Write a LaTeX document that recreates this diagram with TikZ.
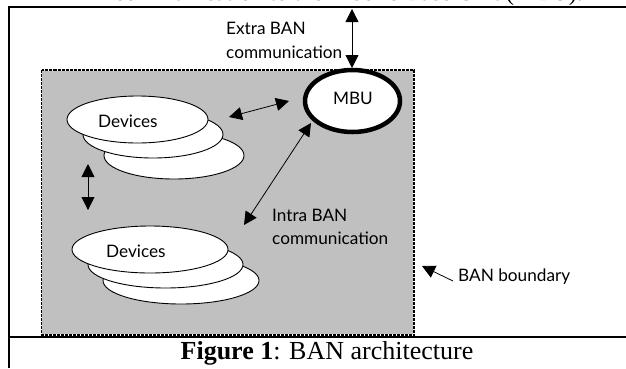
\documentclass[tikz,border=0pt]{standalone}
\usepackage{fontspec}
\setmainfont{Liberation Serif}
\newfontfamily\handfont{Lato}
\usetikzlibrary{arrows.meta,shapes.geometric}
\tikzset{
  x=1pt,y=-1pt,
  device/.style={draw=black,fill=white,ellipse,line width=0.9pt,inner sep=0pt},
  mbunode/.style={draw=black,fill=white,ellipse,line width=4.5pt,minimum width=95pt,minimum height=62pt,inner sep=0pt},
  hand/.style={font=\handfont\fontsize{17.2}{17.2}\selectfont,inner sep=0pt,anchor=west,text=black},
  link/.style={<->,>={Triangle[length=13pt,width=13pt]},line width=0.8pt,black},
  thinlink/.style={->,>={Triangle[length=13pt,width=13pt]},line width=0.8pt,black},
  frameline/.style={line width=2pt,black},
}
\begin{document}
\begin{tikzpicture}
\useasboundingbox (0,0) rectangle (626,368);
% text of the page above the figure, cut off in the reference too
\begin{scope}
\clip (0,0) rectangle (626,5.5);
\node[font=\fontsize{24}{24}\selectfont,anchor=base east,inner sep=0pt] (above) at (583,0.5) {communication to the Mobile Base Unit (MBU).};
\end{scope}
% frame
\draw[frameline] (8.5,368) -- (8.5,6.5) -- (626,6.5);
\draw[frameline] (8.5,337) -- (626,337);
% BAN area
\draw[fill={rgb,255:red,192;green,192;blue,192},draw=white,line width=1.4pt] (41.5,70) rectangle (414,335);
\draw[black,line width=1.4pt,dash pattern=on 3pt off 1pt] (41.5,70) rectangle (414,335);
% devices
\node[device,minimum width=140pt,minimum height=47pt] (d13) at (174,155.5) {};
\node[device,minimum width=140pt,minimum height=47pt] (d12) at (153,134.5) {};
\node[device,minimum width=141pt,minimum height=47pt] (d11) at (137.5,119.5) {};
\node[device,minimum width=156pt,minimum height=47pt] (d23) at (181,280.5) {};
\node[device,minimum width=155pt,minimum height=47pt] (d22) at (165.5,264.5) {};
\node[device,minimum width=156pt,minimum height=47pt] (d21) at (150,249.5) {};
\node[hand] (l1) at (98,121) {Devices};
\node[hand] (l2) at (106,251) {Devices};
% MBU
\node[mbunode] (mbu) at (352.5,101) {};
\node[hand,anchor=center] (mbul) at (353,98) {MBU};
% labels
\node[hand] (extra1) at (226,28) {Extra BAN};
\node[hand] (extra2) at (226,52) {communication};
\node[hand] (intra1) at (272,215) {Intra BAN};
\node[hand] (intra2) at (272,238) {communication};
\node[hand] (bound) at (458,277) {BAN boundary};
\node[font=\fontsize{26}{26}\selectfont,inner sep=0pt] (cap) at (327,353) {\textbf{Figure 1}: BAN architecture};
% connectors
\coordinate (ext) at (352,9);
\coordinate (a1) at (229,117);
\coordinate (a2) at (289,101);
\coordinate (b1) at (244,225);
\coordinate (b2) at (311,123);
\coordinate (c1) at (88,164);
\coordinate (c2) at (88,210);
\coordinate (e1) at (422,266);
\coordinate (e2) at (453,281);
\coordinate (mt) at (352,68);
\draw[link] (ext) -- (mt);
\draw[link] (a1) -- (a2);
\draw[link] (b1) -- (b2);
\draw[link] (c1) -- (c2);
\draw[thinlink] (e2) -- (e1);
\end{tikzpicture}
\end{document}
